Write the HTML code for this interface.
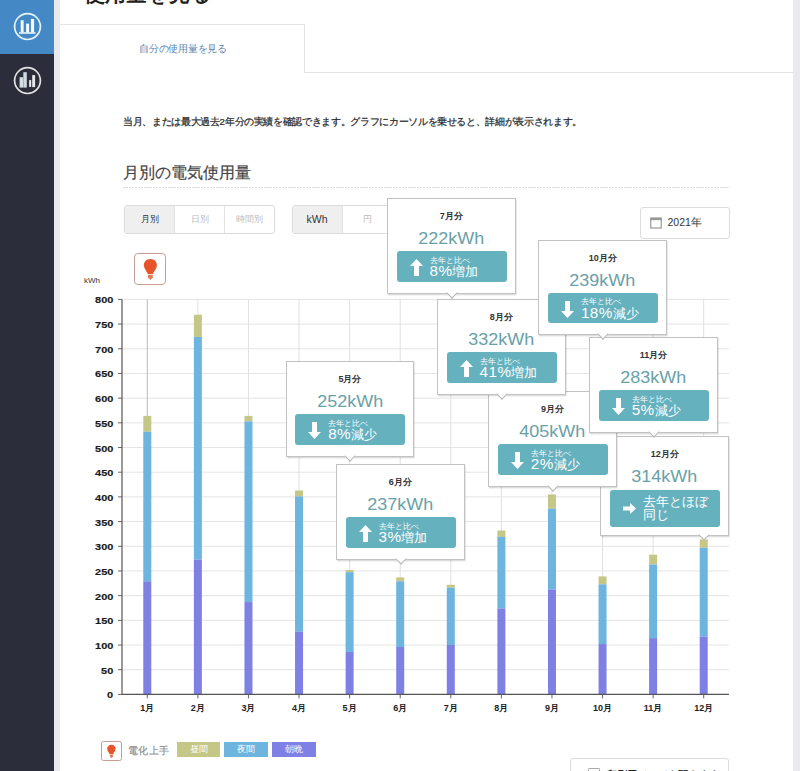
<!DOCTYPE html><html><head><meta charset="utf-8"><style>
*{margin:0;padding:0;box-sizing:border-box}
html,body{width:800px;height:771px;overflow:hidden;background:#e9e9ee;font-family:"Liberation Sans",sans-serif;}
.a{position:absolute}
#side{left:0;top:0;width:54.3px;height:771px;background:#2b2e3a}
#sideblue{left:0;top:0;width:54.3px;height:53.5px;background:#4489c6}
#panel{left:60px;top:0;width:733px;height:771px;background:#fff}
.ic{width:27px;height:27px;border:2px solid #fff;border-radius:50%}
.tt{position:absolute;width:128.5px;height:95.5px;background:#fff;border:1px solid #c2c2c2;box-shadow:0.5px 1px 1.5px rgba(0,0,0,.22)}
.tt .t{position:absolute;left:0;right:0;top:10px;text-align:center;font-size:9px;font-weight:bold;color:#333;line-height:14px}
.tt .v{position:absolute;left:0;right:0;top:29px;text-align:center;font-size:16.5px;color:#69a1a7;line-height:20px;transform:scaleX(1.09)}
.tt .b{position:absolute;left:8.5px;top:52px;width:110px;height:30.5px;background:#65b1be;border-radius:3px}
.tt .s{position:absolute;left:33px;top:4.5px;font-size:8px;color:#fff;line-height:9px;white-space:nowrap}
.tt .p{position:absolute;left:33px;top:12px;font-size:13px;color:#fff;line-height:16px;white-space:nowrap}
.tt .n{font-size:15.3px;letter-spacing:0.4px}
.tt .ar{position:absolute;left:13px;top:8px}
.tt .ptr{position:absolute;bottom:-4px;width:8px;height:8px;background:#fff;border-right:1.3px solid #b5b5b5;border-bottom:1.3px solid #b5b5b5;transform:rotate(45deg);margin-left:-4.5px}
.yl{position:absolute;right:687px;font-size:9.2px;font-weight:bold;color:#1a1a1a;line-height:10px;text-align:right;transform:scaleX(1.19);transform-origin:right center;-webkit-text-stroke:0.15px #1a1a1a}
.xl{position:absolute;width:40px;margin-left:-20px;text-align:center;font-size:9px;font-weight:bold;color:#222;line-height:10px;top:703px}
.seg{position:absolute;top:204.5px;height:29px;border:1px solid #dcdcdc;border-radius:3px;display:flex;overflow:hidden}
.seg div{width:50px;height:27px;line-height:27px;text-align:center;font-size:9px;color:#bbb;border-left:1px solid #e2e2e2}
.seg div:first-child{width:49px;border-left:none;background:#efefef;color:#333}
.lg{position:absolute;top:742px;width:43.5px;height:15px;line-height:15px;text-align:center;font-size:9px;color:#fff}
</style></head><body><div id="side" class="a"></div><div id="sideblue" class="a"></div>
<svg class="a" style="left:0;top:0" width="54" height="100" viewBox="0 0 54 100"><circle cx="27.5" cy="26.6" r="12.9" fill="none" stroke="#e4f3fc" stroke-width="1.7"/><rect x="20.7" y="20.2" width="2.9" height="12.3" fill="#f4faff"/><rect x="26.1" y="23.6" width="3" height="8.9" fill="#f4faff"/><rect x="30.9" y="18.9" width="3.2" height="13.6" fill="#f4faff"/><rect x="19" y="32.2" width="16.5" height="1.6" fill="#e8f4fc"/><circle cx="27.5" cy="80.6" r="12.9" fill="none" stroke="#e2e2e4" stroke-width="1.7"/><rect x="19.6" y="77.2" width="3.5" height="10.4" fill="#d6dce4"/><rect x="23.3" y="72.2" width="3.5" height="15.4" fill="#d0d8e0"/><rect x="29.1" y="80.1" width="2.1" height="6.8" fill="#e6e8ec"/><rect x="32.2" y="75.1" width="2.9" height="12" fill="#e6e8ec"/></svg>
<div id="panel" class="a"></div>
<div class="a" style="left:84px;top:-17px;font-size:21px;font-weight:bold;color:#222;line-height:21px;white-space:nowrap">使用量を見る</div>
<div class="a" style="left:60px;top:24px;width:245px;height:49px;border-top:1px solid #e3e3e3;border-right:1px solid #e3e3e3;background:#fff"></div>
<div class="a" style="left:304px;top:72px;width:489px;height:1px;background:#e3e3e3"></div>
<div class="a" style="left:138.5px;top:42px;font-size:10px;transform:scale(0.975);transform-origin:left top;color:#5a83ad;line-height:13px;white-space:nowrap">自分の使用量を見る</div>
<div class="a" style="left:123px;top:115px;font-size:10px;transform:scale(0.965);transform-origin:left top;color:#2a2a2a;-webkit-text-stroke:0.25px #2a2a2a;line-height:13px;white-space:nowrap">当月、または最大過去2年分の実績を確認できます。グラフにカーソルを乗せると、詳細が表示されます。</div>
<div class="a" style="left:123px;top:163px;font-size:16px;color:#444;-webkit-text-stroke:0.2px #444;line-height:20px;white-space:nowrap">月別の電気使用量</div>
<div class="a" style="left:123px;top:187px;width:607px;height:1px;background:repeating-linear-gradient(90deg,#dadada 0 2px,transparent 2px 3px)"></div>
<div class="seg" style="left:124px"><div>月別</div><div>日別</div><div>時間別</div></div>
<div class="seg" style="left:291.5px"><div style="font-size:10.5px">kWh</div><div>円</div></div>
<div class="a" style="left:640px;top:206.5px;width:90px;height:32px;border:1px solid #dcdcdc;border-radius:3px"></div>
<svg class="a" style="left:650px;top:217px" width="12" height="12" viewBox="0 0 12 12"><rect x="0.75" y="1" width="10.5" height="10" fill="none" stroke="#999" stroke-width="1.2"/><rect x="0.75" y="1" width="10.5" height="2.2" fill="#999"/></svg>
<div class="a" style="left:667.5px;top:216px;font-size:10.5px;color:#333;line-height:13px;white-space:nowrap">2021年</div>
<div class="a" style="left:134px;top:252.8px;width:32.2px;height:32.2px;border:1.5px solid #c89d95;border-radius:3.8640000000000003px;background:#fff"></div><svg class="a" style="left:134px;top:252.8px" width="32.2" height="32.2" viewBox="0 0 32 32"><path d="M16.3 5.9C20.2 5.9 22.8 8.7 22.8 12C22.8 15.6 19.6 18.4 18.9 20.8H13.7C13 18.4 9.8 15.6 9.8 12C9.8 8.7 12.4 5.9 16.3 5.9Z" fill="#e8542a"/><path d="M13.9 21.6H18.7V24.4L16.3 26.9L13.9 24.4Z" fill="#e47a5e"/></svg>
<div class="a" style="left:84px;top:276px;font-size:8px;color:#333;line-height:10px">kWh</div>
<svg class="a" style="left:0;top:0" width="800" height="771"><line x1="118" y1="694.40" x2="122" y2="694.40" stroke="#666" stroke-width="1"/><line x1="122" y1="669.71" x2="729" y2="669.71" stroke="#e4e4e4" stroke-width="1"/><line x1="118" y1="669.71" x2="122" y2="669.71" stroke="#666" stroke-width="1"/><line x1="122" y1="645.02" x2="729" y2="645.02" stroke="#e4e4e4" stroke-width="1"/><line x1="118" y1="645.02" x2="122" y2="645.02" stroke="#666" stroke-width="1"/><line x1="122" y1="620.34" x2="729" y2="620.34" stroke="#e4e4e4" stroke-width="1"/><line x1="118" y1="620.34" x2="122" y2="620.34" stroke="#666" stroke-width="1"/><line x1="122" y1="595.65" x2="729" y2="595.65" stroke="#e4e4e4" stroke-width="1"/><line x1="118" y1="595.65" x2="122" y2="595.65" stroke="#666" stroke-width="1"/><line x1="122" y1="570.96" x2="729" y2="570.96" stroke="#e4e4e4" stroke-width="1"/><line x1="118" y1="570.96" x2="122" y2="570.96" stroke="#666" stroke-width="1"/><line x1="122" y1="546.27" x2="729" y2="546.27" stroke="#e4e4e4" stroke-width="1"/><line x1="118" y1="546.27" x2="122" y2="546.27" stroke="#666" stroke-width="1"/><line x1="122" y1="521.59" x2="729" y2="521.59" stroke="#e4e4e4" stroke-width="1"/><line x1="118" y1="521.59" x2="122" y2="521.59" stroke="#666" stroke-width="1"/><line x1="122" y1="496.90" x2="729" y2="496.90" stroke="#e4e4e4" stroke-width="1"/><line x1="118" y1="496.90" x2="122" y2="496.90" stroke="#666" stroke-width="1"/><line x1="122" y1="472.21" x2="729" y2="472.21" stroke="#e4e4e4" stroke-width="1"/><line x1="118" y1="472.21" x2="122" y2="472.21" stroke="#666" stroke-width="1"/><line x1="122" y1="447.52" x2="729" y2="447.52" stroke="#e4e4e4" stroke-width="1"/><line x1="118" y1="447.52" x2="122" y2="447.52" stroke="#666" stroke-width="1"/><line x1="122" y1="422.84" x2="729" y2="422.84" stroke="#e4e4e4" stroke-width="1"/><line x1="118" y1="422.84" x2="122" y2="422.84" stroke="#666" stroke-width="1"/><line x1="122" y1="398.15" x2="729" y2="398.15" stroke="#e4e4e4" stroke-width="1"/><line x1="118" y1="398.15" x2="122" y2="398.15" stroke="#666" stroke-width="1"/><line x1="122" y1="373.46" x2="729" y2="373.46" stroke="#e4e4e4" stroke-width="1"/><line x1="118" y1="373.46" x2="122" y2="373.46" stroke="#666" stroke-width="1"/><line x1="122" y1="348.77" x2="729" y2="348.77" stroke="#e4e4e4" stroke-width="1"/><line x1="118" y1="348.77" x2="122" y2="348.77" stroke="#666" stroke-width="1"/><line x1="122" y1="324.09" x2="729" y2="324.09" stroke="#e4e4e4" stroke-width="1"/><line x1="118" y1="324.09" x2="122" y2="324.09" stroke="#666" stroke-width="1"/><line x1="122" y1="299.40" x2="729" y2="299.40" stroke="#e4e4e4" stroke-width="1"/><line x1="118" y1="299.40" x2="122" y2="299.40" stroke="#666" stroke-width="1"/><line x1="147.29" y1="299.4" x2="147.29" y2="694.4" stroke="#b8b8b8" stroke-width="1"/><line x1="147.29" y1="694.4" x2="147.29" y2="698.4" stroke="#666" stroke-width="1"/><line x1="197.88" y1="299.4" x2="197.88" y2="694.4" stroke="#e0e0e0" stroke-width="1"/><line x1="197.88" y1="694.4" x2="197.88" y2="698.4" stroke="#666" stroke-width="1"/><line x1="248.46" y1="299.4" x2="248.46" y2="694.4" stroke="#e0e0e0" stroke-width="1"/><line x1="248.46" y1="694.4" x2="248.46" y2="698.4" stroke="#666" stroke-width="1"/><line x1="299.04" y1="299.4" x2="299.04" y2="694.4" stroke="#e0e0e0" stroke-width="1"/><line x1="299.04" y1="694.4" x2="299.04" y2="698.4" stroke="#666" stroke-width="1"/><line x1="349.62" y1="299.4" x2="349.62" y2="694.4" stroke="#e0e0e0" stroke-width="1"/><line x1="349.62" y1="694.4" x2="349.62" y2="698.4" stroke="#666" stroke-width="1"/><line x1="400.21" y1="299.4" x2="400.21" y2="694.4" stroke="#e0e0e0" stroke-width="1"/><line x1="400.21" y1="694.4" x2="400.21" y2="698.4" stroke="#666" stroke-width="1"/><line x1="450.79" y1="299.4" x2="450.79" y2="694.4" stroke="#e0e0e0" stroke-width="1"/><line x1="450.79" y1="694.4" x2="450.79" y2="698.4" stroke="#666" stroke-width="1"/><line x1="501.38" y1="299.4" x2="501.38" y2="694.4" stroke="#e0e0e0" stroke-width="1"/><line x1="501.38" y1="694.4" x2="501.38" y2="698.4" stroke="#666" stroke-width="1"/><line x1="551.96" y1="299.4" x2="551.96" y2="694.4" stroke="#e0e0e0" stroke-width="1"/><line x1="551.96" y1="694.4" x2="551.96" y2="698.4" stroke="#666" stroke-width="1"/><line x1="602.54" y1="299.4" x2="602.54" y2="694.4" stroke="#e0e0e0" stroke-width="1"/><line x1="602.54" y1="694.4" x2="602.54" y2="698.4" stroke="#666" stroke-width="1"/><line x1="653.12" y1="299.4" x2="653.12" y2="694.4" stroke="#e0e0e0" stroke-width="1"/><line x1="653.12" y1="694.4" x2="653.12" y2="698.4" stroke="#666" stroke-width="1"/><line x1="703.71" y1="299.4" x2="703.71" y2="694.4" stroke="#e0e0e0" stroke-width="1"/><line x1="703.71" y1="694.4" x2="703.71" y2="698.4" stroke="#666" stroke-width="1"/><rect x="143.29" y="415.92" width="8" height="15.80" fill="#c5c787"/><rect x="143.29" y="431.72" width="8" height="149.61" fill="#6db4de"/><rect x="143.29" y="581.33" width="8" height="113.07" fill="#7f80e3"/><rect x="193.88" y="314.71" width="8" height="22.22" fill="#c5c787"/><rect x="193.88" y="336.92" width="8" height="222.68" fill="#6db4de"/><rect x="193.88" y="559.61" width="8" height="134.79" fill="#7f80e3"/><rect x="244.46" y="415.92" width="8" height="5.43" fill="#c5c787"/><rect x="244.46" y="421.36" width="8" height="180.71" fill="#6db4de"/><rect x="244.46" y="602.07" width="8" height="92.33" fill="#7f80e3"/><rect x="295.04" y="490.48" width="8" height="5.93" fill="#c5c787"/><rect x="295.04" y="496.41" width="8" height="135.29" fill="#6db4de"/><rect x="295.04" y="631.69" width="8" height="62.71" fill="#7f80e3"/><rect x="345.62" y="569.97" width="8" height="2.22" fill="#c5c787"/><rect x="345.62" y="572.20" width="8" height="79.74" fill="#6db4de"/><rect x="345.62" y="651.94" width="8" height="42.46" fill="#7f80e3"/><rect x="396.21" y="577.38" width="8" height="3.95" fill="#c5c787"/><rect x="396.21" y="581.33" width="8" height="65.67" fill="#6db4de"/><rect x="396.21" y="647.00" width="8" height="47.40" fill="#7f80e3"/><rect x="446.79" y="584.79" width="8" height="2.96" fill="#c5c787"/><rect x="446.79" y="587.75" width="8" height="57.27" fill="#6db4de"/><rect x="446.79" y="645.02" width="8" height="49.38" fill="#7f80e3"/><rect x="497.38" y="530.47" width="8" height="6.42" fill="#c5c787"/><rect x="497.38" y="536.89" width="8" height="71.59" fill="#6db4de"/><rect x="497.38" y="608.49" width="8" height="85.91" fill="#7f80e3"/><rect x="547.96" y="494.43" width="8" height="14.32" fill="#c5c787"/><rect x="547.96" y="508.75" width="8" height="80.73" fill="#6db4de"/><rect x="547.96" y="589.48" width="8" height="104.92" fill="#7f80e3"/><rect x="598.54" y="576.39" width="8" height="7.90" fill="#c5c787"/><rect x="598.54" y="584.29" width="8" height="59.74" fill="#6db4de"/><rect x="598.54" y="644.04" width="8" height="50.36" fill="#7f80e3"/><rect x="649.12" y="554.67" width="8" height="9.88" fill="#c5c787"/><rect x="649.12" y="564.54" width="8" height="73.57" fill="#6db4de"/><rect x="649.12" y="638.11" width="8" height="56.29" fill="#7f80e3"/><rect x="699.71" y="539.36" width="8" height="8.39" fill="#c5c787"/><rect x="699.71" y="547.76" width="8" height="88.88" fill="#6db4de"/><rect x="699.71" y="636.63" width="8" height="57.77" fill="#7f80e3"/><line x1="122" y1="299.4" x2="122" y2="694.4" stroke="#555" stroke-width="1.2"/><line x1="122" y1="694.4" x2="729" y2="694.4" stroke="#555" stroke-width="1.2"/></svg>
<div class="yl" style="top:690.40px">0</div>
<div class="yl" style="top:665.71px">50</div>
<div class="yl" style="top:641.02px">100</div>
<div class="yl" style="top:616.34px">150</div>
<div class="yl" style="top:591.65px">200</div>
<div class="yl" style="top:566.96px">250</div>
<div class="yl" style="top:542.27px">300</div>
<div class="yl" style="top:517.59px">350</div>
<div class="yl" style="top:492.90px">400</div>
<div class="yl" style="top:468.21px">450</div>
<div class="yl" style="top:443.52px">500</div>
<div class="yl" style="top:418.84px">550</div>
<div class="yl" style="top:394.15px">600</div>
<div class="yl" style="top:369.46px">650</div>
<div class="yl" style="top:344.77px">700</div>
<div class="yl" style="top:320.09px">750</div>
<div class="yl" style="top:295.40px">800</div>
<div class="xl" style="left:147.29px">1月</div>
<div class="xl" style="left:197.88px">2月</div>
<div class="xl" style="left:248.46px">3月</div>
<div class="xl" style="left:299.04px">4月</div>
<div class="xl" style="left:349.62px">5月</div>
<div class="xl" style="left:400.21px">6月</div>
<div class="xl" style="left:450.79px">7月</div>
<div class="xl" style="left:501.38px">8月</div>
<div class="xl" style="left:551.96px">9月</div>
<div class="xl" style="left:602.54px">10月</div>
<div class="xl" style="left:653.12px">11月</div>
<div class="xl" style="left:703.71px">12月</div>
<div class="tt" style="left:285.7px;top:361.3px;z-index:2"><div class="ptr" style="left:64.25px"></div><div class="t">5月分</div><div class="v">252kWh</div><div class="b"><svg class="ar" width="13" height="17" viewBox="0 0 13 17"><path d="M6.5 17L13 10H9V0H4V10H0Z" fill="#fff"/></svg><div class="s">去年と比べ</div><div class="p"><span class="n">8%</span>減少</div></div></div>
<div class="tt" style="left:336.0px;top:464.0px;z-index:1"><div class="ptr" style="left:64.25px"></div><div class="t">6月分</div><div class="v">237kWh</div><div class="b"><svg class="ar" width="13" height="17" viewBox="0 0 13 17"><path d="M6.5 0L13 7H9V17H4V7H0Z" fill="#fff"/></svg><div class="s">去年と比べ</div><div class="p"><span class="n">3%</span>増加</div></div></div>
<div class="tt" style="left:387.0px;top:198.4px;z-index:6"><div class="ptr" style="left:64.25px"></div><div class="t">7月分</div><div class="v">222kWh</div><div class="b"><svg class="ar" width="13" height="17" viewBox="0 0 13 17"><path d="M6.5 0L13 7H9V17H4V7H0Z" fill="#fff"/></svg><div class="s">去年と比べ</div><div class="p"><span class="n">8%</span>増加</div></div></div>
<div class="tt" style="left:437.1px;top:299.0px;z-index:4"><div class="ptr" style="left:64.25px"></div><div class="t">8月分</div><div class="v">332kWh</div><div class="b"><svg class="ar" width="13" height="17" viewBox="0 0 13 17"><path d="M6.5 0L13 7H9V17H4V7H0Z" fill="#fff"/></svg><div class="s">去年と比べ</div><div class="p"><span class="n">41%</span>増加</div></div></div>
<div class="tt" style="left:488.3px;top:391.0px;z-index:3"><div class="ptr" style="left:64.25px"></div><div class="t">9月分</div><div class="v">405kWh</div><div class="b"><svg class="ar" width="13" height="17" viewBox="0 0 13 17"><path d="M6.5 17L13 10H9V0H4V10H0Z" fill="#fff"/></svg><div class="s">去年と比べ</div><div class="p"><span class="n">2%</span>減少</div></div></div>
<div class="tt" style="left:538.4px;top:239.8px;z-index:7"><div class="ptr" style="left:64.25px"></div><div class="t">10月分</div><div class="v">239kWh</div><div class="b"><svg class="ar" width="13" height="17" viewBox="0 0 13 17"><path d="M6.5 17L13 10H9V0H4V10H0Z" fill="#fff"/></svg><div class="s">去年と比べ</div><div class="p"><span class="n">18%</span>減少</div></div></div>
<div class="tt" style="left:589.2px;top:337.4px;z-index:5"><div class="ptr" style="left:64.25px"></div><div class="t">11月分</div><div class="v">283kWh</div><div class="b"><svg class="ar" width="13" height="17" viewBox="0 0 13 17"><path d="M6.5 17L13 10H9V0H4V10H0Z" fill="#fff"/></svg><div class="s">去年と比べ</div><div class="p"><span class="n">5%</span>減少</div></div></div>
<div class="tt" style="left:600.4px;top:435.9px;height:100.6px;z-index:2"><div class="ptr" style="left:103.20px"></div><div class="t">12月分</div><div class="v">314kWh</div><div class="b" style="height:36.2px;top:53.5px"><svg class="ar" width="13" height="11" viewBox="0 0 13 11" style="top:13px"><path d="M13 5.5L7 0V3.5H0V7.5H7V11Z" fill="#fff"/></svg><div class="p" style="top:4.5px;font-size:13px;line-height:13.5px">去年とほぼ<br>同じ</div></div></div>
<div class="a" style="left:101.3px;top:740.8px;width:20.4px;height:20.4px;border:1px solid #c89d95;border-radius:2.448px;background:#fff"></div><svg class="a" style="left:101.3px;top:740.8px" width="20.4" height="20.4" viewBox="0 0 32 32"><path d="M16.3 5.9C20.2 5.9 22.8 8.7 22.8 12C22.8 15.6 19.6 18.4 18.9 20.8H13.7C13 18.4 9.8 15.6 9.8 12C9.8 8.7 12.4 5.9 16.3 5.9Z" fill="#e8542a"/><path d="M13.9 21.6H18.7V24.4L16.3 26.9L13.9 24.4Z" fill="#e47a5e"/></svg>
<div class="a" style="left:128px;top:743.5px;font-size:10px;transform:scale(1.04);transform-origin:left top;color:#8a8a8a;-webkit-text-stroke:0.15px #8a8a8a;line-height:13px;white-space:nowrap">電化上手</div>
<div class="lg" style="left:176.8px;background:#c5c787">昼間</div>
<div class="lg" style="left:224.4px;background:#6db4de">夜間</div>
<div class="lg" style="left:272.3px;background:#7f80e3">朝晩</div>
<div class="a" style="left:570px;top:758.3px;width:159px;height:30px;border:1px solid #dcdcdc;border-radius:3px"></div>
<div class="a" style="left:588px;top:768px;width:12px;height:8px;border:1.5px solid #aaa;border-radius:1px"></div>
<div class="a" style="left:607px;top:767.5px;font-size:10px;transform:scaleX(1.02);transform-origin:left top;color:#222;line-height:13px;white-space:nowrap;font-weight:bold">印刷用ページを開きます</div></body></html>
